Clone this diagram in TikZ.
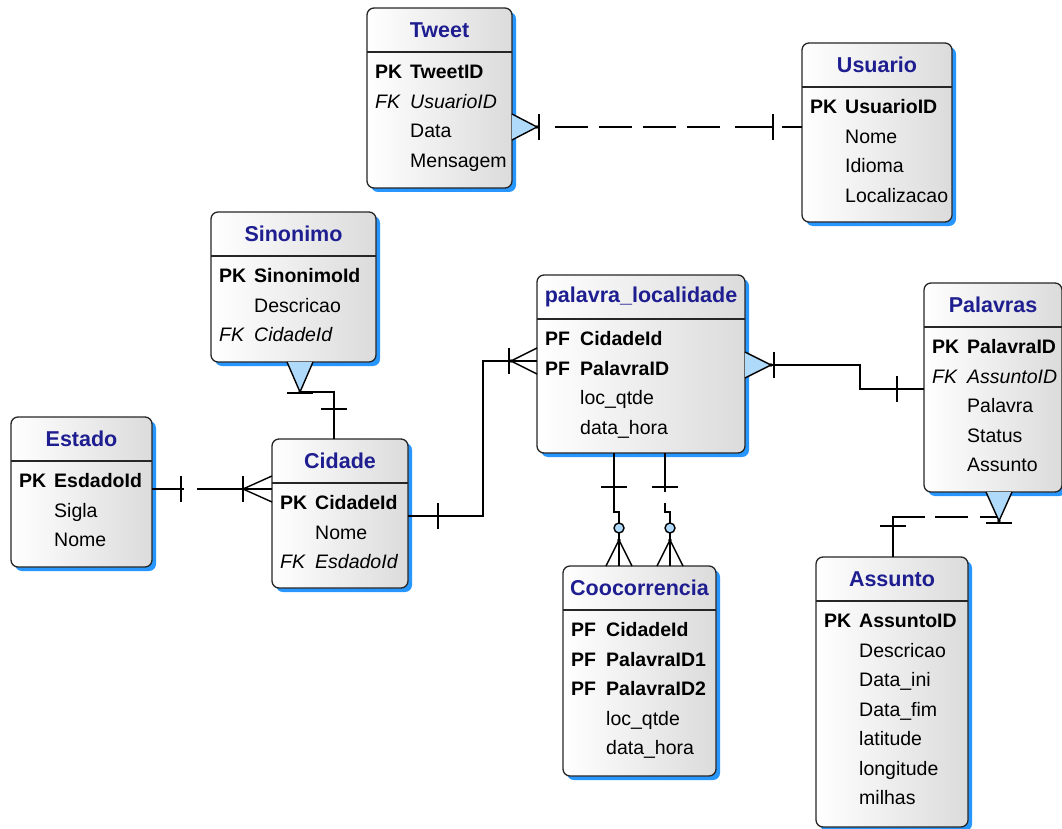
\documentclass[tikz,border=0pt]{standalone}
\usepackage{fontspec}
\setmainfont{Liberation Sans}
\usetikzlibrary{calc,shadows}

\definecolor{titleblue}{RGB}{30,30,145}
\definecolor{shadowblue}{RGB}{40,150,255}
\definecolor{crowfill}{RGB}{175,218,250}

\tikzset{
  entity/.style={draw=black!85, line width=1.3pt, rounded corners=7pt, anchor=north west,
    inner sep=0pt, outer sep=0pt, left color=white, right color=black!14,
    drop shadow={fill=shadowblue, opacity=1, shadow xshift=4pt, shadow yshift=-4pt}},
  title/.style={font=\fontsize{21.5}{24}\selectfont\bfseries, text=titleblue},
  fields/.style={anchor=north west, inner sep=0pt, font=\fontsize{19.5}{29.5}\selectfont},
  sep/.style={draw=black!85, line width=1.3pt},
  conn/.style={line width=1.4pt},
  pics/crow/.style={code={
    \draw[conn] (#1,-13) -- (0,0) -- (#1,13);
    \fill (0,0) circle (1.8);
  }},
  pics/crowsh/.style={code={
    \fill[crowfill] (0,0) -- (#1,-13) -- (#1,13) -- cycle;
    \draw[conn] (#1,-13) -- (0,0) -- (#1,13);
    \fill (0,0) circle (1.8);
  }},
  pics/bar/.style={code={
    \draw[conn] (0,-13) -- (0,13);
  }},
}

\begin{document}
\begin{tikzpicture}[x=1pt, y=-1pt]
        \useasboundingbox (0,0) rectangle (1062,829);

        % Tweet
        \node[entity, minimum width=145pt, minimum height=180pt] (Tweet) at (367,8) {};
        \node[title] (TweetT) at ($(Tweet.north)+(0,22)$) {Tweet};
        \draw[sep] ($(Tweet.north west)+(0,44)$) -- ($(Tweet.north east)+(0,44)$);
        \node[fields] (TweetF) at ($(Tweet.north west)+(8,50)$) {\begin{tabular}{@{}p{35pt}@{}l@{}}
          \textbf{PK} & \textbf{TweetID}\\ \textit{FK} & \textit{UsuarioID}\\ & Data\\ & Mensagem
        \end{tabular}};

        % Usuario
        \node[entity, minimum width=150pt, minimum height=179pt] (Usuario) at (802,43) {};
        \node[title] (UsuarioT) at ($(Usuario.north)+(0,22)$) {Usuario};
        \draw[sep] ($(Usuario.north west)+(0,44)$) -- ($(Usuario.north east)+(0,44)$);
        \node[fields] (UsuarioF) at ($(Usuario.north west)+(8,50)$) {\begin{tabular}{@{}p{35pt}@{}l@{}}
          \textbf{PK} & \textbf{UsuarioID}\\ & Nome\\ & Idioma\\ & Localizacao
        \end{tabular}};

        % Sinonimo
        \node[entity, minimum width=165pt, minimum height=150pt] (Sinonimo) at (211,212) {};
        \node[title] (SinonimoT) at ($(Sinonimo.north)+(0,22)$) {Sinonimo};
        \draw[sep] ($(Sinonimo.north west)+(0,44)$) -- ($(Sinonimo.north east)+(0,44)$);
        \node[fields] (SinonimoF) at ($(Sinonimo.north west)+(8,50)$) {\begin{tabular}{@{}p{35pt}@{}l@{}}
          \textbf{PK} & \textbf{SinonimoId}\\ & Descricao\\ \textit{FK} & \textit{CidadeId}
        \end{tabular}};

        % Estado
        \node[entity, minimum width=141pt, minimum height=150pt] (Estado) at (11,417) {};
        \node[title] (EstadoT) at ($(Estado.north)+(0,22)$) {Estado};
        \draw[sep] ($(Estado.north west)+(0,44)$) -- ($(Estado.north east)+(0,44)$);
        \node[fields] (EstadoF) at ($(Estado.north west)+(8,50)$) {\begin{tabular}{@{}p{35pt}@{}l@{}}
          \textbf{PK} & \textbf{EsdadoId}\\ & Sigla\\ & Nome
        \end{tabular}};

        % Cidade
        \node[entity, minimum width=136pt, minimum height=149pt] (Cidade) at (272,439) {};
        \node[title] (CidadeT) at ($(Cidade.north)+(0,22)$) {Cidade};
        \draw[sep] ($(Cidade.north west)+(0,44)$) -- ($(Cidade.north east)+(0,44)$);
        \node[fields] (CidadeF) at ($(Cidade.north west)+(8,50)$) {\begin{tabular}{@{}p{35pt}@{}l@{}}
          \textbf{PK} & \textbf{CidadeId}\\ & Nome\\ \textit{FK} & \textit{EsdadoId}
        \end{tabular}};

        % palavra_localidade
        \node[entity, minimum width=208pt, minimum height=178pt] (PalLoc) at (537,275) {};
        \node[title] (PalLocT) at ($(PalLoc.north)+(0,22)$) {palavra\_localidade};
        \draw[sep] ($(PalLoc.north west)+(0,44)$) -- ($(PalLoc.north east)+(0,44)$);
        \node[fields] (PalLocF) at ($(PalLoc.north west)+(8,50)$) {\begin{tabular}{@{}p{35pt}@{}l@{}}
          \textbf{PF} & \textbf{CidadeId}\\ \textbf{PF} & \textbf{PalavraID}\\ & loc\_qtde\\ & data\_hora
        \end{tabular}};

        % Palavras
        \node[entity, minimum width=138pt, minimum height=209pt] (Palavras) at (924,283) {};
        \node[title] (PalavrasT) at ($(Palavras.north)+(0,22)$) {Palavras};
        \draw[sep] ($(Palavras.north west)+(0,44)$) -- ($(Palavras.north east)+(0,44)$);
        \node[fields] (PalavrasF) at ($(Palavras.north west)+(8,50)$) {\begin{tabular}{@{}p{35pt}@{}l@{}}
          \textbf{PK} & \textbf{PalavraID}\\ \textit{FK} & \textit{AssuntoID}\\ & Palavra\\ & Status\\ & Assunto
        \end{tabular}};

        % Coocorrencia
        \node[entity, minimum width=153pt, minimum height=210pt] (Cooc) at (563,566) {};
        \node[title] (CoocT) at ($(Cooc.north)+(0,22)$) {Coocorrencia};
        \draw[sep] ($(Cooc.north west)+(0,44)$) -- ($(Cooc.north east)+(0,44)$);
        \node[fields] (CoocF) at ($(Cooc.north west)+(8,50)$) {\begin{tabular}{@{}p{35pt}@{}l@{}}
          \textbf{PF} & \textbf{CidadeId}\\ \textbf{PF} & \textbf{PalavraID1}\\ \textbf{PF} & \textbf{PalavraID2}\\
          & loc\_qtde\\ & data\_hora
        \end{tabular}};

        % Assunto
        \node[entity, minimum width=152pt, minimum height=270pt] (Assunto) at (816,557) {};
        \node[title] (AssuntoT) at ($(Assunto.north)+(0,22)$) {Assunto};
        \draw[sep] ($(Assunto.north west)+(0,44)$) -- ($(Assunto.north east)+(0,44)$);
        \node[fields] (AssuntoF) at ($(Assunto.north west)+(8,50)$) {\begin{tabular}{@{}p{35pt}@{}l@{}}
          \textbf{PK} & \textbf{AssuntoID}\\ & Descricao\\ & Data\_ini\\ & Data\_fim\\
          & latitude\\ & longitude\\ & milhas
        \end{tabular}};

        % Connectors

        % Tweet - Usuario
        \coordinate (tw1) at ($(Tweet.north east)+(0,119)$);
        \coordinate (us1) at ($(Usuario.north west)+(0,84)$);
        \draw[conn, dash pattern=on 28pt off 15pt on 33pt off 11pt on 33pt off 11pt on 33pt off 11pt
          on 33pt off 15pt on 38pt off 9pt on 30pt] (tw1) -- (us1);
        \pic[rotate=180] at ($(tw1)+(25,0)$) {crowsh=25};
        \pic at ($(tw1)+(27,0)$) {bar};
        \pic at ($(us1)+(-29,0)$) {bar};

        % Sinonimo - Cidade
        \coordinate (si1) at ($(Sinonimo.south west)+(89,0)$);
        \coordinate (ci1) at ($(Cidade.north west)+(62,0)$);
        \draw[conn] (si1) -- ++(0,30) -| (ci1);
        \pic[rotate=90] at ($(si1)+(0,30)$) {crowsh=30};
        \pic[rotate=90] at ($(si1)+(0,31)$) {bar};
        \pic[rotate=90] at ($(ci1)+(0,-30)$) {bar};

        % Estado - Cidade
        \coordinate (es1) at ($(Estado.north east)+(0,72)$);
        \coordinate (ci2) at ($(Cidade.north west)+(0,50)$);
        \draw[conn, dash pattern=on 32pt off 13pt on 90pt] (es1) -- (ci2);
        \pic at ($(es1)+(29,0)$) {bar};
        \pic at ($(ci2)+(-29,0)$) {bar};
        \pic at ($(ci2)+(-29,0)$) {crow=29};

        % Cidade - palavra_localidade
        \coordinate (ci3) at ($(Cidade.north east)+(0,77)$);
        \coordinate (pl1) at ($(PalLoc.north west)+(0,86)$);
        \draw[conn] (ci3) -| ($(pl1)+(-54,0)$) -- (pl1);
        \pic at ($(ci3)+(30,0)$) {bar};
        \pic at ($(pl1)+(-28,0)$) {bar};
        \pic at ($(pl1)+(-26,0)$) {crow=26};

        % palavra_localidade - Palavras
        \coordinate (pl2) at ($(PalLoc.north east)+(0,90)$);
        \coordinate (pa1) at ($(Palavras.north west)+(0,106)$);
        \draw[conn] (pl2) -- ++(115,0) |- (pa1);
        \pic[rotate=180] at ($(pl2)+(26,0)$) {crowsh=26};
        \pic at ($(pl2)+(29,0)$) {bar};
        \pic at ($(pa1)+(-27,0)$) {bar};

        % Palavras - Assunto
        \coordinate (pa2) at ($(Palavras.south west)+(75,0)$);
        \coordinate (as1) at ($(Assunto.north west)+(77,0)$);
        \draw[conn, dash pattern=on 44pt off 12pt on 33pt off 10pt on 100pt] (pa2) -- ++(0,25) -| (as1);
        \pic[rotate=90] at ($(pa2)+(0,29)$) {crowsh=29};
        \pic[rotate=90] at ($(pa2)+(0,31)$) {bar};
        \pic[rotate=90] at ($(as1)+(0,-31)$) {bar};

        % palavra_localidade - Coocorrencia
        \coordinate (pl3) at ($(PalLoc.south west)+(77,0)$);
        \coordinate (co1) at ($(Cooc.north west)+(56,0)$);
        \draw[conn] (pl3) -- ++(0,59) -| (co1);
        \pic[rotate=90] at ($(pl3)+(0,34)$) {bar};
        \draw[conn, fill=crowfill] ($(co1)+(0,-38)$) circle (5);
        \pic[rotate=-90] at ($(co1)+(0,-26)$) {crow=26};

        \coordinate (pl4) at ($(PalLoc.south west)+(128,0)$);
        \coordinate (co2) at ($(Cooc.north west)+(107,0)$);
        \draw[conn, dash pattern=on 39pt off 11pt on 100pt] (pl4) -- ++(0,59) -| (co2);
        \pic[rotate=90] at ($(pl4)+(0,34)$) {bar};
        \draw[conn, fill=crowfill] ($(co2)+(0,-38)$) circle (5);
        \pic[rotate=-90] at ($(co2)+(0,-26)$) {crow=26};

\end{tikzpicture}
\end{document}
